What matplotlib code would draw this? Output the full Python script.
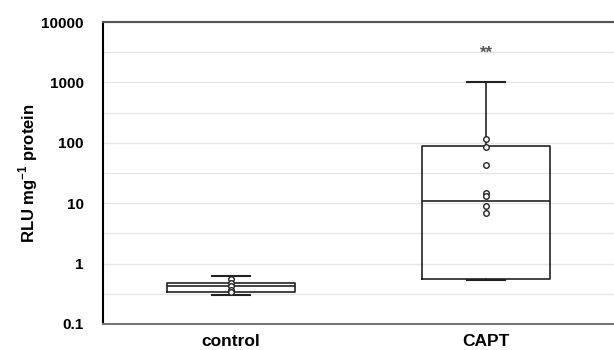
import numpy as np
import matplotlib.pyplot as plt

# data (log scale)
groups = ["control", "CAPT"]
med = [0.42, 11.0]
q1 = [0.34, 0.56]
q3 = [0.48, 88.0]
whislo = [0.30, 0.53]
whishi = [0.62, 1015.0]
control_pts = [0.55, 0.48, 0.42, 0.37, 0.34]
capt_pts = [115.0, 86.0, 43.0, 14.8, 13.0, 9.0, 6.9]
yticks = [0.1, 1, 10, 100, 1000, 10000]
ytick_labels = ["0.1", "1", "10", "100", "1000", "10000"]

plt.rcParams['font.family'] = ['Liberation Sans', 'DejaVu Sans']
plt.rcParams['mathtext.fontset'] = 'custom'
plt.rcParams['mathtext.bf'] = 'Liberation Sans:bold'
plt.rcParams['mathtext.rm'] = 'Liberation Sans:bold'

fig = plt.figure(figsize=(6.14, 3.5), dpi=100)
ax = fig.add_axes([0.1678, 0.0743, 0.8322, 0.8628])

stats = []
for i in range(len(groups)):
    stats.append(dict(med=med[i], q1=q1[i], q3=q3[i],
                      whislo=whislo[i], whishi=whishi[i],
                      fliers=[], label=groups[i]))

ax.bxp(stats, positions=[1, 2], widths=0.5, capwidths=0.15,
       showfliers=False,
       boxprops=dict(color="#222222", linewidth=1.2),
       medianprops=dict(color="#222222", linewidth=1.2),
       whiskerprops=dict(color="#222222", linewidth=1.2),
       capprops=dict(color="#222222", linewidth=1.5),
       zorder=3)

for pos, pts in zip([1, 2], [control_pts, capt_pts]):
    ax.plot([pos] * len(pts), pts, 'o', mfc='white', mec='#222222',
            ms=4, mew=1.0, zorder=4)

ax.text(2, 3000, "**", ha='center', va='center', fontsize=12,
        color='#555555', fontweight='bold')

ax.set_yscale('log')
ax.set_ylim(0.1, 10000)
ax.set_xlim(0.5, 2.5)

# grid at decades and half-decades
grid_vals = 10.0 ** np.arange(-1, 4.01, 0.5)
for g in grid_vals:
    ax.axhline(g, color='#e6e6e6', linewidth=1.0, zorder=0)

ax.set_yticks(yticks)
ax.set_yticklabels(ytick_labels)
ax.yaxis.set_minor_locator(plt.NullLocator())
ax.tick_params(axis='y', length=0, labelsize=11, pad=14)
ax.tick_params(axis='x', length=0, labelsize=12.5, pad=7)
for lab in ax.get_yticklabels() + ax.get_xticklabels():
    lab.set_fontweight('bold')

ax.set_ylabel("RLU mg$^{\\mathbf{-1}}$ protein", fontsize=12,
              fontweight='bold', labelpad=1)

ax.spines['right'].set_visible(False)
ax.spines['left'].set_color('black')
ax.spines['left'].set_linewidth(1.5)
ax.spines['top'].set_color('#555555')
ax.spines['top'].set_linewidth(1.5)
ax.spines['bottom'].set_color('#777777')
ax.spines['bottom'].set_linewidth(1.5)

fig.savefig("out.png", dpi=100)
